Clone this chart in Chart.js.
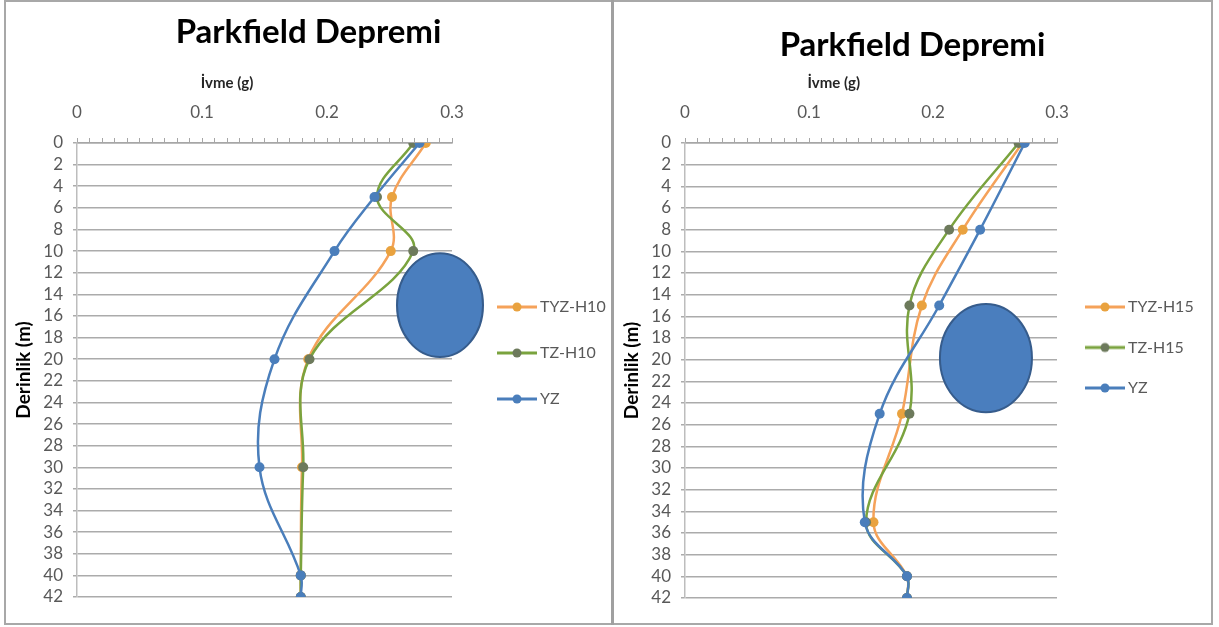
<!DOCTYPE html>
<html>
<head>
<meta charset="utf-8">
<script src="https://cdn.jsdelivr.net/npm/chart.js@4.4.1/dist/chart.umd.min.js"></script>
<style>
  html, body { margin: 0; padding: 0; background: #fff; }
  #frame { position: absolute; left: 4px; top: 0; width: 1205px; height: 621px; border: 2px solid #a8a8a8; }
  #sep { position: absolute; left: 611px; top: 0; width: 3px; height: 625px; background: #a0a0a0; }
  canvas { position: absolute; top: 2px; display: block; }
  #c1 { left: 6px; }
  #c2 { left: 614px; }
</style>
</head>
<body>
<div id="frame"></div>
<div id="sep"></div>
<canvas id="c1" width="605" height="621"></canvas>
<canvas id="c2" width="597" height="621"></canvas>
<script>
// Axis ticks
const depthTicks = [0, 2, 4, 6, 8, 10, 12, 14, 16, 18, 20, 22, 24, 26, 28, 30, 32, 34, 36, 38, 40, 42];
const accelTicks = [0, 0.1, 0.2, 0.3];

// Left panel: profiles for H10
const depthH10 = [0, 5, 10, 20, 30, 40, 42];
const tyzH10 = [0.279, 0.252, 0.251, 0.185, 0.180, 0.179, 0.179];
const tzH10  = [0.269, 0.240, 0.269, 0.186, 0.181, 0.179, 0.179];
const yzH10  = [0.274, 0.238, 0.206, 0.158, 0.146, 0.179, 0.179];

// Right panel: profiles for H15
const depthH15 = [0, 8, 15, 25, 35, 40, 42];
const tyzH15 = [0.272, 0.224, 0.191, 0.175, 0.152, 0.179, 0.179];
const tzH15  = [0.269, 0.213, 0.181, 0.181, 0.146, 0.179, 0.179];
const yzH15  = [0.274, 0.238, 0.205, 0.157, 0.145, 0.179, 0.179];

const FONT = 'Lato, "Open Sans", sans-serif';
const TICK_COLOR = '#595959';
const GRID_COLOR = '#ababab';

const STYLE = {
  tyz: { line: '#f5a25a', point: '#e9a23f' },
  tz:  { line: '#7aa33e', point: '#6d7a5c' },
  yz:  { line: '#4a7ebb', point: '#4a7ebb' }
};

function pairs(depths, values) {
  return values.map((v, i) => ({ x: v, y: depths[i] }));
}

function legendSwatch(st) {
  const c = document.createElement('canvas');
  c.width = 40; c.height = 12;
  const g = c.getContext('2d');
  g.strokeStyle = st.line; g.lineWidth = 3;
  g.beginPath(); g.moveTo(0, 6); g.lineTo(40, 6); g.stroke();
  g.fillStyle = st.point;
  g.beginPath(); g.arc(20, 6, 4.5, 0, Math.PI * 2); g.fill();
  return c;
}

function series(label, depths, values, st, order) {
  return {
    label,
    data: pairs(depths, values),
    showLine: true,
    tension: 0.38,
    borderColor: st.line,
    borderWidth: 2.5,
    pointRadius: 5,
    pointHoverRadius: 5,
    pointBackgroundColor: st.point,
    pointBorderColor: st.point,
    pointBorderWidth: 0,
    order,
    swatch: legendSwatch(st)
  };
}

// Places the legend block and fixes its reserved width
function legendPlacer(p) {
  return {
    id: 'legendPlacer',
    beforeLayout(chart) {
      const lg = chart.legend;
      if (lg && !lg._fixedFit) {
        const fit = lg.fit;
        lg.fit = function () { fit.call(this); this.width = p.width; };
        lg._fixedFit = true;
      }
    },
    afterLayout(chart) {
      const lg = chart.legend;
      const w = lg.width, h = lg.height;
      lg.left = p.left; lg.right = p.left + w;
      lg.top = p.top; lg.bottom = p.top + h;
    }
  };
}

// Filled ellipse placed in data units
function ellipseMark(e) {
  return {
    id: 'ellipseMark',
    afterDatasetsDraw(chart) {
      const xs = chart.scales.x, ys = chart.scales.y;
      const cx = xs.getPixelForValue(e.x), cy = ys.getPixelForValue(e.y);
      const rx = Math.abs(xs.getPixelForValue(e.x + e.rx) - cx);
      const ry = Math.abs(ys.getPixelForValue(e.y + e.ry) - cy);
      const ctx = chart.ctx;
      ctx.save();
      ctx.beginPath();
      ctx.ellipse(cx, cy, rx, ry, 0, 0, Math.PI * 2);
      ctx.fillStyle = '#4a7ebe';
      ctx.fill();
      ctx.lineWidth = 2;
      ctx.strokeStyle = '#365c8c';
      ctx.stroke();
      ctx.restore();
    }
  };
}

// Horizontal axis caption above the tick labels
function axisCaption(text, frac, y) {
  return {
    id: 'axisCaption',
    afterDraw(chart) {
      const a = chart.chartArea;
      const ctx = chart.ctx;
      ctx.save();
      ctx.font = 'bold 15px ' + FONT;
      ctx.fillStyle = '#262626';
      ctx.textAlign = 'center';
      ctx.textBaseline = 'middle';
      ctx.fillText(text, a.left + (a.right - a.left) * frac, y);
      ctx.restore();
    }
  };
}

function makeChart(id, p) {
  const minor = [];
  for (let i = 0; i <= 30; i++) minor.push(i / 100);
  return new Chart(document.getElementById(id), {
    type: 'scatter',
    data: {
      datasets: [
        series(p.names[0], p.depths, p.tyz, STYLE.tyz, 2),
        series(p.names[1], p.depths, p.tz, STYLE.tz, 1),
        series(p.names[2], p.depths, p.yz, STYLE.yz, 0)
      ]
    },
    options: {
      responsive: false,
      animation: false,
      layout: { padding: { left: 0, right: 0, top: 0, bottom: p.padBottom } },
      plugins: {
        tooltip: { enabled: false },
        title: {
          display: true,
          text: 'Parkfield Depremi',
          color: '#000',
          font: { family: FONT, size: 33, weight: 'bold', lineHeight: 1.2 },
          padding: { top: p.titleTop, bottom: 0 }
        },
        legend: {
          display: true,
          position: 'right',
          align: 'start',
          labels: {
            usePointStyle: true,
            pointStyleWidth: 30,
            padding: p.legend.padding,
            color: TICK_COLOR,
            font: { family: FONT, size: 16 },
            generateLabels(chart) {
              return chart.data.datasets.map((ds, i) => ({
                text: ds.label,
                pointStyle: ds.swatch,
                fillStyle: ds.borderColor,
                strokeStyle: ds.borderColor,
                lineWidth: 0,
                hidden: false,
                datasetIndex: i,
                fontColor: TICK_COLOR
              }));
            }
          }
        }
      },
      scales: {
        x: {
          type: 'linear',
          position: 'top',
          min: 0,
          max: 0.3,
          afterFit(s) { s.height = p.xAxisHeight; },
          afterBuildTicks(s) { s.ticks = minor.map(v => ({ value: v })); },
          ticks: {
            autoSkip: false,
            maxRotation: 0,
            color: TICK_COLOR,
            padding: 14.8,
            font: { family: FONT, size: 17 },
            callback(v) {
              const hit = accelTicks.find(t => Math.abs(t - v) < 1e-9);
              return hit === undefined ? '' : String(hit);
            }
          },
          grid: { drawOnChartArea: false, drawTicks: true, tickLength: 5, color: '#a6a6a6', lineWidth: 1 },
          border: { display: true, color: '#a6a6a6', width: 1.5 }
        },
        y: {
          type: 'linear',
          reverse: true,
          min: 0,
          max: 42,
          afterFit(s) { s.width = 71; },
          afterBuildTicks(s) { s.ticks = depthTicks.map(v => ({ value: v })); },
          ticks: {
            autoSkip: false,
            color: TICK_COLOR,
            padding: 10,
            font: { family: FONT, size: 17 }
          },
          grid: { color: GRID_COLOR, lineWidth: 1.5, drawTicks: true, tickLength: 4 },
          border: { display: true, color: '#bdbdbd', width: 1.5 },
          title: {
            display: true,
            text: 'Derinlik (m)',
            color: '#000',
            font: { family: FONT, size: 19, weight: 'bold', lineHeight: 1.2 },
            padding: { top: 6, bottom: 0 }
          }
        }
      }
    },
    plugins: [legendPlacer(p.legend), ellipseMark(p.ellipse), axisCaption('İvme (g)', 0.4, 81)]
  });
}

makeChart('c1', {
  names: ['TYZ-H10', 'TZ-H10', 'YZ'],
  depths: depthH10, tyz: tyzH10, tz: tzH10, yz: yzH10,
  padBottom: 26,
  titleTop: 11,
  xAxisHeight: 90.4,
  legend: { width: 159, left: 466, top: 267, padding: 30 },
  ellipse: { x: 0.2904, y: 15.0, rx: 0.0344, ry: 4.8 }
});

makeChart('c2', {
  names: ['TYZ-H15', 'TZ-H15', 'YZ'],
  depths: depthH15, tyz: tyzH15, tz: tzH15, yz: yzH15,
  padBottom: 25,
  titleTop: 24,
  xAxisHeight: 77.4,
  legend: { width: 154, left: 451.5, top: 272.5, padding: 24.5 },
  ellipse: { x: 0.2427, y: 19.85, rx: 0.0371, ry: 5.0 }
});
</script>
</body>
</html>
